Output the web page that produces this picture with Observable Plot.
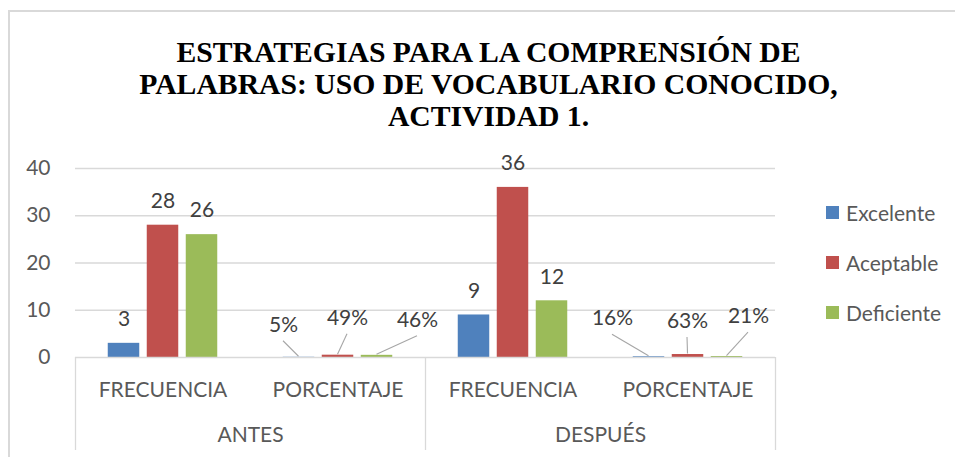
<!DOCTYPE html>
<html>
<head>
<meta charset="utf-8">
<script src="https://cdn.jsdelivr.net/npm/d3@7"></script>
<script src="https://cdn.jsdelivr.net/npm/@observablehq/plot@0.6"></script>
<style>
  html, body { margin: 0; padding: 0; background: #fff; overflow: hidden; }
  #wrap { position: relative; width: 955px; height: 457px; }
  #border { position: absolute; left: 8px; top: 10px; width: 1000px; height: 500px;
            border-left: 2px solid #d9d9d9; border-top: 2px solid #d9d9d9; }
  #title { position: absolute; left: 11px; top: 36px; width: 955px; text-align: center;
           font-family: "Liberation Serif", "Times New Roman", serif; font-weight: bold;
           font-size: 29.7px; line-height: 32px; color: #000; }
  #chart { position: absolute; left: 0; top: 140px; }
  #legend { position: absolute; left: 826px; top: 0; font-family: Lato, sans-serif;
            font-size: 21px; color: #595959; }
  .item { position: absolute; left: 0; white-space: nowrap; height: 24px; line-height: 24px; }
  .sw { position: absolute; left: 0; top: 5px; width: 13px; height: 13px; }
  .lbl { position: absolute; left: 20px; top: 0; }
</style>
</head>
<body>
<div id="wrap">
  <div id="border"></div>
  <div id="title"></div>
  <div id="chart"></div>
  <div id="legend"></div>
</div>
<script>
// ---- data ----
const titleLines = ["ESTRATEGIAS PARA LA COMPRENSIÓN DE", "PALABRAS: USO DE VOCABULARIO CONOCIDO,", "ACTIVIDAD 1."];
const series = ["Excelente", "Aceptable", "Deficiente"];
const colors = ["#4F81BD", "#C0504D", "#9BBB59"];
const periods = ["ANTES", "DESPUÉS"];
const measures = ["FRECUENCIA", "PORCENTAJE"];
const antesFrecuencia = [3, 28, 26];
const antesPorcentaje = [0.05, 0.49, 0.46];
const despuesFrecuencia = [9, 36, 12];
const despuesPorcentaje = [0.16, 0.63, 0.21];
const yTicks = [0, 10, 20, 30, 40];

// ---- build table ----
const valuesFor = {
  "ANTES|FRECUENCIA": antesFrecuencia,
  "ANTES|PORCENTAJE": antesPorcentaje,
  "DESPUÉS|FRECUENCIA": despuesFrecuencia,
  "DESPUÉS|PORCENTAJE": despuesPorcentaje
};
const groupKeys = [];
const rows = [];
for (const p of periods) for (const m of measures) {
  const key = p + "|" + m;
  groupKeys.push(key);
  valuesFor[key].forEach((v, j) => rows.push({
    period: p, measure: m, key, j, series: series[j], value: v,
    label: m === "FRECUENCIA" ? d3.format("d")(v) : d3.format(".0%")(v)
  }));
}
const periodRows = periods.map(p => ({period: p, key: p + "|" + measures[0]}));

// ---- layout / style ----
const W = 955, H = 317, mL = 75, mR = 180, mT = 28, mB = 100;
const groupStep = (W - mL - mR) / groupKeys.length;
const barStep = 39, barWidth = 31.5;
const seriesDx = j => (j - 1) * barStep;
const inset = (groupStep - barWidth) / 2;
// manual placement of the percentage labels (pixel offsets from the bar top), as in the original
const pctLabelOffsets = [[-15.5, -32], [9.5, -37], [40.5, -35], [-36.5, -38], [-0.5, -33], [21.5, -40]];
const leaderGap = 16;

const pctRows = rows.filter(d => d.measure === "PORCENTAJE");
const marks = [];
marks.push(Plot.ruleY(yTicks.filter(t => t > 0), {y: d => d, stroke: "#d9d9d9", strokeWidth: 1.3}));
series.forEach((s, j) => {
  marks.push(Plot.barY(rows.filter(d => d.j === j), {
    x: "key", y: "value", fill: colors[j], dx: seriesDx(j), insetLeft: inset, insetRight: inset
  }));
});
marks.push(Plot.ruleY([0], {stroke: "#d9d9d9", strokeWidth: 1.3}));
// category box separators
marks.push(Plot.ruleX(periodRows, {x: "key", dx: -groupStep / 2, stroke: "#d9d9d9", strokeWidth: 1.3, insetTop: H - mB - mT, insetBottom: -93}));
marks.push(Plot.ruleX([groupKeys[groupKeys.length - 1]], {x: d => d, dx: groupStep / 2, stroke: "#d9d9d9", strokeWidth: 1.3, insetTop: H - mB - mT, insetBottom: -93}));
// frequency labels
series.forEach((s, j) => {
  marks.push(Plot.text(rows.filter(d => d.j === j && d.measure === "FRECUENCIA"), {
    x: "key", y: "value", text: "label", dx: seriesDx(j), dy: -24, fill: "#404040"
  }));
});
// percentage labels
pctRows.forEach((d, i) => {
  marks.push(Plot.text([d], {
    x: "key", y: "value", text: "label",
    dx: seriesDx(d.j) + pctLabelOffsets[i][0], dy: pctLabelOffsets[i][1], fill: "#404040"
  }));
});
// period labels
marks.push(Plot.text(periodRows, {x: "key", text: "period", frameAnchor: "bottom", dx: groupStep / 2, dy: 84, fill: "#595959"}));

const chart = Plot.plot({
  width: W, height: H,
  marginTop: mT, marginBottom: mB, marginLeft: mL, marginRight: mR,
  style: {fontFamily: "Lato, sans-serif", fontSize: "21px", color: "#595959", background: "transparent", overflow: "visible"},
  x: {domain: groupKeys, padding: 0, tickSize: 0, tickPadding: 25, label: null, tickFormat: k => k.split("|")[1]},
  y: {domain: [0, 40], ticks: yTicks, tickSize: 0, tickPadding: 25, label: null},
  marks
});

// leader lines for the percentage labels, positioned through the plot's scales
const xs = chart.scale("x"), ys = chart.scale("y");
const xc = k => xs.apply(k) + xs.bandwidth / 2;
const yc = v => ys.apply(v);
const svgNS = "http://www.w3.org/2000/svg";
const g = document.createElementNS(svgNS, "g");
g.setAttribute("stroke", "#a6a6a6");
g.setAttribute("stroke-width", "1.1");
pctRows.forEach((d, i) => {
  const bx = xc(d.key) + seriesDx(d.j), by = yc(d.value);
  const lx = bx + pctLabelOffsets[i][0], ly = by + pctLabelOffsets[i][1] + leaderGap;
  const ln = document.createElementNS(svgNS, "line");
  ln.setAttribute("x1", lx); ln.setAttribute("y1", ly);
  ln.setAttribute("x2", bx); ln.setAttribute("y2", by - 0.5);
  g.appendChild(ln);
});
chart.appendChild(g);

document.getElementById("chart").appendChild(chart);
document.getElementById("title").innerHTML = titleLines.join("<br>");

const legend = document.getElementById("legend");
const legendY = [213, 263, 313];
series.forEach((s, j) => {
  const it = document.createElement("div");
  it.className = "item";
  it.style.top = (legendY[j] - 12) + "px";
  it.innerHTML = `<span class="sw" style="background:${colors[j]}"></span><span class="lbl">${s}</span>`;
  legend.appendChild(it);
});
</script>
</body>
</html>
